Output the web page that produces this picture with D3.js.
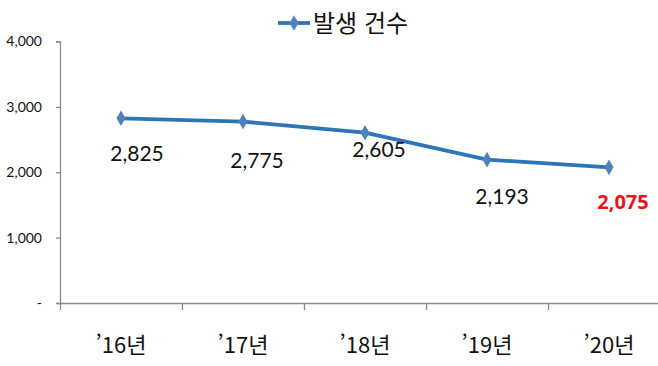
<!DOCTYPE html>
<html lang="ko">
<head>
  <meta charset="utf-8">
  <title>발생 건수</title>
  <script src="https://d3js.org/d3.v7.min.js"></script>
  <style>
    body { margin: 0; background: #fff; }
    svg text { font-family: "Noto Sans CJK KR", "Noto Sans", sans-serif; }
    .num { font-family: Lato, "Noto Sans", sans-serif; }
    .hi { font-family: "Open Sans", "Noto Sans", sans-serif; font-weight: 700; }
  </style>
</head>
<body>
<div id="chart"></div>
<script>
  "use strict"

  // data
  var years = ["’16년", "’17년", "’18년", "’19년", "’20년"];
  var counts = [2825, 2775, 2605, 2193, 2075];
  var yTicks = [0, 1000, 2000, 3000, 4000];
  var seriesName = "발생 건수";

  var W = 658, H = 366;
  var left = 60, axisY = 303, topY = 41.5;
  // label nudges (layout only)
  var labelDx = [16, 14, 14, 15, 14];
  var labelDy = [43, 46, 24, 44, 42];

  var svg = d3.select("#chart").append("svg")
      .attr("width", W).attr("height", H);

  var x = d3.scaleLinear().domain([0, years.length]).range([left, left + 122 * years.length]);
  var y = d3.scaleLinear().domain([0, 4000]).range([axisY, topY]);

  // y axis
  var yAxis = svg.append("g")
      .attr("transform", "translate(" + left + ",0)")
      .call(d3.axisLeft(y).tickValues(yTicks).tickSize(4).tickPadding(14)
        .tickFormat(function(d) { return d === 0 ? "-" : d3.format(",")(d); }));
  yAxis.select(".domain").attr("stroke", "#8c8c8c").attr("stroke-width", 1.3);
  yAxis.selectAll(".tick line").attr("stroke", "#8c8c8c").attr("stroke-width", 1.3);
  yAxis.selectAll(".tick text").attr("class", "num")
      .style("font-size", "14px").attr("fill", "#111");

  // x axis
  var xAxis = svg.append("g")
      .attr("transform", "translate(0," + axisY + ")")
      .call(d3.axisBottom(x).tickValues(d3.range(years.length + 1)).tickSize(7).tickSizeOuter(0)
        .tickFormat(""));
  xAxis.select(".domain").attr("stroke", "#8c8c8c").attr("stroke-width", 1.3);
  xAxis.selectAll(".tick line").attr("stroke", "#8c8c8c").attr("stroke-width", 1.3);

  svg.selectAll(".xlab").data(years).enter().append("text")
      .attr("class", "xlab")
      .attr("x", function(d, i) { return x(i + 0.5); })
      .attr("y", 353)
      .attr("text-anchor", "middle")
      .style("font-size", "22px")
      .attr("fill", "#111")
      .text(function(d) { return d; });

  // line
  var line = d3.line()
      .x(function(d, i) { return x(i + 0.5); })
      .y(function(d) { return y(d); });

  svg.append("path")
      .datum(counts)
      .attr("d", line)
      .attr("fill", "none")
      .attr("stroke", "#2e75b6")
      .attr("stroke-width", 3.8)
      .attr("stroke-linejoin", "round");

  var diamond = d3.symbol().type(d3.symbolDiamond).size(70);
  svg.selectAll(".pt").data(counts).enter().append("path")
      .attr("class", "pt")
      .attr("d", diamond)
      .attr("transform", function(d, i) { return "translate(" + x(i + 0.5) + "," + y(d) + ")"; })
      .attr("fill", "#4f81bd");

  // value labels
  var last = counts.length - 1;
  svg.selectAll(".val").data(counts).enter().append("text")
      .attr("class", function(d, i) { return i === last ? "val hi" : "val num"; })
      .attr("x", function(d, i) { return x(i + 0.5) + labelDx[i]; })
      .attr("y", function(d, i) { return y(d) + labelDy[i]; })
      .attr("text-anchor", "middle")
      .style("font-size", function(d, i) { return i === last ? "20px" : "21px"; })
      .attr("fill", function(d, i) { return i === last ? "#e8141b" : "#111"; })
      .text(function(d) { return d3.format(",")(d); });

  // legend
  var lg = svg.append("g").attr("transform", "translate(278,23)");
  lg.append("line").attr("x1", 0).attr("x2", 32).attr("y1", 0).attr("y2", 0)
      .attr("stroke", "#2e75b6").attr("stroke-width", 3.8);
  lg.append("path").attr("d", diamond).attr("transform", "translate(16,0)").attr("fill", "#4f81bd");
  lg.append("text").attr("x", 35).attr("y", 9)
      .style("font-size", "24px").attr("fill", "#111")
      .text(seriesName);
</script>
</body>
</html>
